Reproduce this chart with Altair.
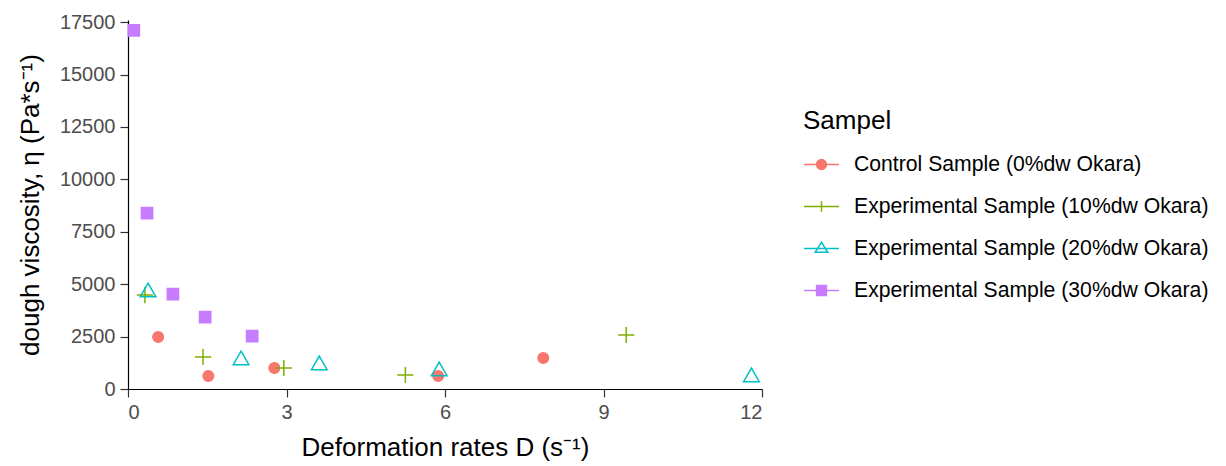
import altair as alt
import pandas as pd

series = [
    "Control Sample (0%dw Okara)",
    "Experimental Sample (10%dw Okara)",
    "Experimental Sample (20%dw Okara)",
    "Experimental Sample (30%dw Okara)",
]
colors = ["#F8766D", "#7CAE00", "#00BFC4", "#C77CFF"]
fills = ["#F8766D", "transparent", "transparent", "#C77CFF"]

control_x = [0.57, 1.52, 2.77, 5.87, 7.86]
control_y = [2480, 620, 1000, 620, 1480]
exp10_x = [0.32, 1.42, 2.95, 5.25, 9.43]
exp10_y = [4480, 1525, 1000, 667, 2575]
exp20_x = [0.38, 2.14, 3.62, 5.89, 11.8]
exp20_y = [4620, 1380, 1145, 860, 570]
exp30_x = [0.11, 0.36, 0.85, 1.46, 2.35]
exp30_y = [17110, 8390, 4530, 3430, 2525]

x_ticks = [0, 3, 6, 9, 12]
y_ticks = [0, 2500, 5000, 7500, 10000, 12500, 15000, 17500]

rows = []
for name, xs, ys in zip(series, [control_x, exp10_x, exp20_x, exp30_x],
                        [control_y, exp10_y, exp20_y, exp30_y]):
    for a, b in zip(xs, ys):
        rows.append({"D": a, "eta": b, "Sampel": name})
df = pd.DataFrame(rows)

# symbol shapes for the plot
circle_p = "M-0.62,0A0.62,0.62,0,1,1,0.62,0A0.62,0.62,0,1,1,-0.62,0Z"
plus_p = "M-0.95,0L0.95,0M0,-0.95L0,0.95"
tri_p = "M0,-1.05L0.92,0.55L-0.92,0.55Z"
square_p = "M-0.66,-0.66L0.66,-0.66L0.66,0.66L-0.66,0.66Z"
plot_shapes = [circle_p, plus_p, tri_p, square_p]

# legend glyphs: line + symbol
line = "M-1,0L1,0"
leg_circle = "M-0.28,0A0.28,0.28,0,1,1,0.28,0A0.28,0.28,0,1,1,-0.28,0Z" + line
leg_plus = line + "M0,-0.3L0,0.3"
leg_tri = line + "M0,-0.36L0.36,0.22L-0.36,0.22Z"
leg_square = "M-0.28,-0.28L0.28,-0.28L0.28,0.28L-0.28,0.28Z" + line
legend_shapes = [leg_circle, leg_plus, leg_tri, leg_square]

FONT = "Liberation Sans"

base = alt.Chart(df)

points = base.mark_point(filled=False, size=289, strokeWidth=1.5, opacity=1).encode(
    x=alt.X("D:Q", scale=alt.Scale(domain=[0, 12], nice=False, zero=True),
            axis=alt.Axis(values=x_ticks, title="Deformation rates D (s⁻¹)", format="d")),
    y=alt.Y("eta:Q", scale=alt.Scale(domain=[0, 17600], nice=False),
            axis=alt.Axis(values=y_ticks, title="dough viscosity, η (Pa*s⁻¹)", format="d")),
    color=alt.Color("Sampel:N", scale=alt.Scale(domain=series, range=colors), legend=None),
    fill=alt.Fill("Sampel:N", scale=alt.Scale(domain=series, range=fills), legend=None),
    shape=alt.Shape("Sampel:N", scale=alt.Scale(domain=series, range=plot_shapes), legend=None),
)

leg = alt.Legend(
    title="Sampel", orient="none", legendX=675, legendY=88,
    symbolSize=1225, symbolStrokeWidth=1.5, labelOffset=14, rowPadding=13,
    titleFontSize=26, titleFont=FONT, titleFontWeight="normal", titleColor="#000000",
    labelFontSize=21.2, labelFont=FONT, labelColor="#000000", titlePadding=12,
    labelLimit=600,
)

legend_layer = base.transform_filter("false").mark_point(
    filled=False, size=1225, strokeWidth=1.5, opacity=1
).encode(
    color=alt.Color("Sampel:N", scale=alt.Scale(domain=series, range=colors), legend=leg),
    fill=alt.Fill("Sampel:N", scale=alt.Scale(domain=series, range=fills), legend=leg),
    shape=alt.Shape("Sampel:N", scale=alt.Scale(domain=series, range=legend_shapes), legend=leg),
)

chart = alt.layer(points, legend_layer).resolve_scale(
    color="independent", fill="independent", shape="independent"
).properties(
    width=634, height=369,
    autosize=alt.AutoSizeParams(type="none"),
    padding={"left": 120, "top": 12, "right": 456, "bottom": 76},
).configure_view(stroke=None).configure_axis(
    grid=False, domainColor="#000000", domainWidth=1.2, tickColor="#333333", tickWidth=1.2,
    tickSize=8, labelPadding=5, labelColor="#4D4D4D", labelFontSize=20, labelFont=FONT,
    titleFont=FONT, titleFontSize=26, titleFontWeight="normal", titleColor="#000000",
).configure_axisY(titlePadding=16).configure_axisX(titlePadding=12)

chart.save("out.html", embed_options={"renderer": "svg", "actions": False})
